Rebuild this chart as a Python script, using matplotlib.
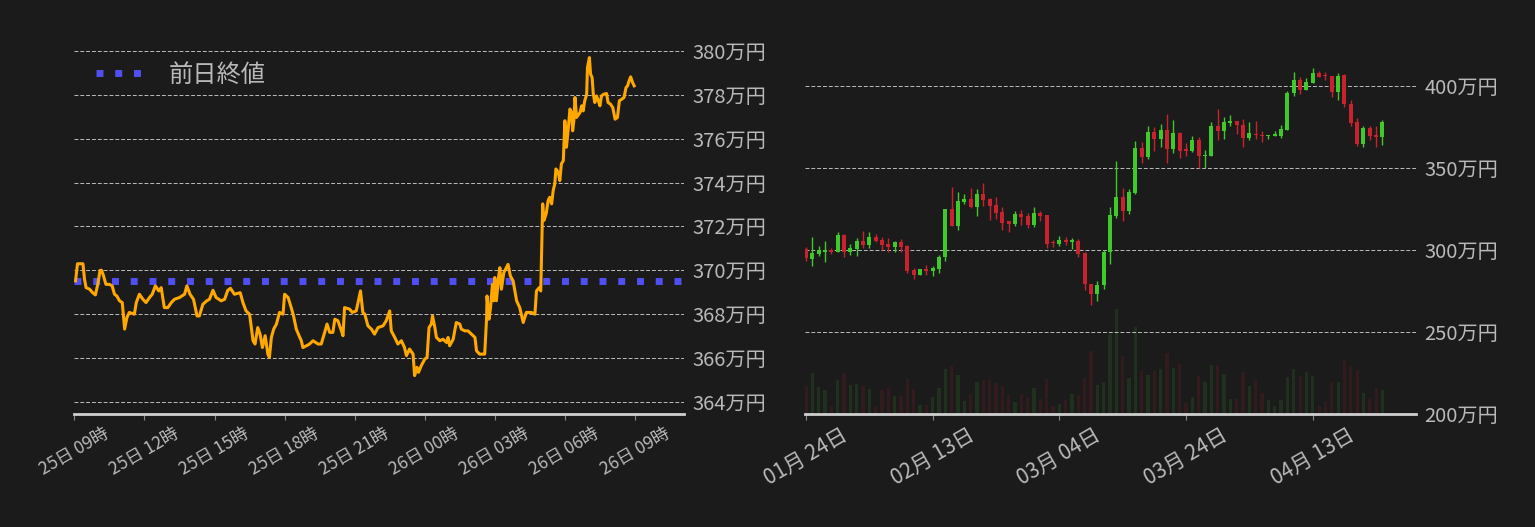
import matplotlib
matplotlib.use("Agg")
import matplotlib.pyplot as plt
import matplotlib.dates as mdates
import numpy as np
import pandas as pd

plt.rcParams['font.family'] = ['Noto Sans CJK JP', 'DejaVu Sans']

BG = '#1b1b1b'
TXT = '#b9b9b9'
GRID = '#bdbdbd'
ORANGE = '#ffa800'
BLUE = '#4f4ff5'
GREEN = '#3fc92b'
RED = '#c9222f'

# ---- intraday (minutes after 25日 09:00, price in 万円) ----
intraday_start = '2024-04-25 09:00'
intraday_min = [3, 8, 22, 26, 30, 39, 47, 54, 60, 66, 70, 75, 81, 90, 97, 103, 109, 116, 123, 129,
                135, 141, 154, 159, 167, 176, 184, 193, 200, 208, 217, 223, 231, 240, 249, 257, 270, 283, 289, 297,
                306, 315, 321, 330, 340, 347, 356, 364, 377, 386, 394, 401, 411, 426, 433, 441, 450, 459, 464, 471,
                477, 483, 490, 497, 501, 506, 512, 519, 527, 536, 540, 549, 557, 563, 570, 579, 583, 587, 596, 604,
                613, 626, 634, 643, 649, 656, 664, 669, 677, 686, 690, 694, 707, 714, 724, 735, 741, 746, 754, 763,
                771, 780, 793, 801, 810, 814, 823, 831, 840, 848, 853, 861, 870, 874, 880, 884, 891, 900, 906, 911,
                917, 920, 926, 930, 939, 947, 956, 960, 964, 973, 981, 990, 994, 1003, 1011, 1020, 1029, 1033, 1041, 1054,
                1059, 1060, 1065, 1069, 1074, 1077, 1080, 1084, 1090, 1093, 1097, 1103, 1114, 1120, 1127, 1136, 1144, 1153, 1161, 1174,
                1183, 1187, 1194, 1198, 1201, 1203, 1206, 1212, 1217, 1221, 1226, 1230, 1234, 1237, 1243, 1247, 1251, 1256, 1260, 1264,
                1269, 1273, 1277, 1280, 1283, 1286, 1290, 1299, 1303, 1307, 1311, 1316, 1318, 1323, 1326, 1330, 1333, 1337, 1341, 1346,
                1350, 1354, 1360, 1367, 1371, 1377, 1383, 1389, 1395, 1400, 1406, 1412, 1417, 1421, 1425, 1429, 1434, 1438]
intraday_price = [369.52, 370.30, 370.30, 369.59, 369.21, 369.14, 368.98, 368.88, 369.36, 370.00,
                  370.00, 369.74, 369.36, 369.36, 369.29, 368.91, 368.83, 368.61, 368.53, 367.32,
                  367.85, 368.08, 368.00, 368.53, 368.91, 368.68, 368.53, 368.76, 368.91, 369.29,
                  369.06, 369.21, 368.30, 368.30, 368.53, 368.68, 368.76, 368.91, 369.29, 368.91,
                  368.68, 367.92, 367.92, 368.45, 368.61, 368.68, 369.09, 368.76, 368.61, 368.68,
                  369.09, 369.18, 368.91, 368.98, 368.53, 368.15, 368.00, 366.79, 366.64, 367.39,
                  367.09, 366.48, 367.02, 366.18, 366.03, 366.94, 367.32, 367.55, 368.08, 368.00,
                  368.91, 368.76, 368.30, 367.92, 367.32, 366.94, 366.79, 366.48, 366.56, 366.64,
                  366.79, 366.64, 366.64, 367.17, 367.55, 367.17, 367.17, 367.77, 367.70, 367.24,
                  367.02, 368.30, 368.23, 368.08, 368.15, 369.06, 368.08, 368.00, 367.47, 367.32,
                  367.09, 367.39, 367.47, 367.70, 368.15, 367.24, 366.94, 366.64, 366.79, 366.48,
                  366.11, 366.41, 366.18, 365.20, 365.58, 365.35, 365.65, 365.95, 366.03, 367.39,
                  367.55, 367.92, 367.39, 366.94, 366.79, 366.86, 366.71, 366.94, 366.56, 366.86,
                  367.62, 367.55, 367.32, 367.24, 367.24, 367.09, 366.94, 366.33, 366.18, 366.18,
                  367.85, 368.83, 367.77, 368.30, 369.36, 368.61, 369.67, 368.61, 369.74, 370.12,
                  369.14, 369.89, 370.27, 369.74, 369.52, 368.61, 368.30, 367.62, 368.08, 368.08,
                  368.00, 369.06, 369.21, 369.06, 371.40, 373.03, 372.27, 372.58, 373.18, 373.33,
                  373.03, 373.64, 373.94, 374.62, 374.47, 374.09, 374.85, 375.00, 376.82, 375.61,
                  376.52, 377.35, 377.20, 376.36, 376.82, 377.88, 376.97, 377.20, 377.50, 377.27,
                  377.73, 378.03, 379.24, 379.70, 378.94, 378.79, 378.03, 377.65, 377.95, 377.73,
                  377.50, 377.95, 378.03, 378.06, 377.65, 377.58, 377.42, 376.89, 376.97, 377.73,
                  377.80, 377.88, 378.33, 378.41, 378.64, 378.82, 378.56, 378.41]
prev_close = 369.5
left_yticks = [364, 366, 368, 370, 372, 374, 376, 378, 380]

# ---- daily candles (万円) ----
daily_start = '2024-01-24'
d_open = [300.5, 294.5, 297.6, 299.0, 300.0, 299.0, 309.1, 299.0, 300.6, 305.5,
          303.0, 307.7, 306.0, 303.6, 301.8, 304.8, 302.2, 287.9, 284.4, 288.5,
          286.9, 288.5, 295.4, 324.8, 314.7, 329.3, 330.9, 326.3, 333.9, 330.9,
          327.3, 323.0, 317.4, 316.0, 321.6, 320.4, 315.4, 322.4, 321.2, 305.0,
          303.8, 306.1, 305.0, 305.7, 298.2, 279.4, 272.9, 278.4, 298.8, 320.7,
          332.0, 323.7, 334.6, 362.1, 356.7, 371.8, 367.4, 373.0, 361.3, 371.2,
          361.1, 360.5, 367.0, 357.0, 357.5, 375.2, 372.7, 377.6, 378.8, 376.4,
          367.9, 370.9, 370.3, 369.1, 369.7, 369.7, 373.3, 395.4, 403.6, 397.6,
          401.8, 407.7, 406.1, 406.1, 396.4, 406.7, 389.1, 378.2, 364.8, 374.5,
          370.3, 368.5]
d_high = [301.6, 307.7, 302.2, 305.3, 301.2, 310.9, 309.7, 303.6, 307.3, 311.5,
          310.9, 309.7, 307.7, 307.3, 305.7, 306.7, 303.0, 289.0, 288.5, 290.9,
          289.9, 296.6, 324.8, 338.2, 335.0, 333.9, 337.6, 337.0, 340.6, 331.9,
          332.1, 325.9, 317.8, 323.4, 324.4, 322.2, 326.1, 324.0, 321.2, 305.9,
          308.5, 307.7, 307.3, 306.5, 298.6, 279.4, 281.2, 300.0, 326.1, 354.4,
          337.5, 336.9, 366.6, 366.0, 375.7, 374.8, 376.9, 382.9, 379.3, 371.8,
          365.4, 369.6, 368.8, 361.1, 377.9, 386.1, 380.8, 382.4, 378.8, 380.0,
          378.2, 378.8, 372.7, 370.3, 372.7, 376.4, 397.0, 408.5, 405.5, 404.8,
          410.9, 409.1, 408.3, 406.1, 407.9, 407.3, 391.5, 380.6, 375.2, 375.2,
          375.2, 379.4]
d_low = [293.4, 289.9, 296.0, 292.9, 297.8, 299.0, 295.4, 297.0, 296.0, 301.4,
         301.4, 305.0, 300.0, 299.0, 299.0, 299.0, 286.0, 282.4, 284.4, 284.8,
         283.8, 286.0, 293.3, 314.7, 312.3, 327.9, 325.5, 320.8, 326.9, 318.4,
         318.8, 312.3, 311.1, 314.7, 315.4, 313.3, 314.1, 317.8, 301.4, 302.0,
         302.6, 302.8, 300.6, 295.4, 275.4, 266.7, 268.7, 276.4, 291.5, 319.5,
         317.7, 321.7, 334.0, 352.8, 355.3, 360.1, 362.5, 352.8, 358.9, 355.9,
         357.0, 359.9, 350.2, 350.2, 357.0, 366.7, 367.3, 375.2, 370.9, 363.0,
         366.7, 367.3, 365.5, 367.5, 369.1, 367.9, 373.3, 393.9, 394.7, 397.6,
         401.8, 405.1, 403.6, 393.3, 391.5, 386.9, 375.2, 363.6, 363.0, 366.7,
         363.0, 364.2]
d_close = [295.0, 298.2, 300.0, 300.2, 299.0, 309.1, 299.0, 301.2, 305.5, 303.0,
           307.7, 305.5, 303.0, 301.8, 304.6, 301.8, 286.9, 284.4, 288.5, 286.9,
           289.1, 295.8, 324.8, 314.7, 329.7, 330.9, 326.3, 333.9, 330.3, 326.9,
           322.6, 316.6, 316.0, 321.6, 320.2, 315.4, 322.2, 320.8, 303.8, 304.0,
           306.1, 304.8, 305.7, 297.2, 279.0, 272.9, 278.8, 298.8, 321.2, 332.0,
           323.7, 335.0, 362.1, 356.7, 371.8, 367.4, 373.0, 361.3, 371.2, 360.5,
           360.5, 367.0, 357.0, 358.0, 375.7, 372.7, 378.2, 378.8, 375.8, 367.9,
           371.5, 369.9, 369.3, 370.3, 370.3, 373.9, 395.8, 403.6, 397.6, 402.4,
           407.7, 405.5, 405.7, 396.4, 406.1, 388.7, 377.6, 364.8, 374.5, 369.7,
           368.5, 378.2]
d_volume = [83, 123, 80, 72, 24, 102, 123, 87, 90, 83,
            75, 24, 72, 78, 53, 53, 105, 75, 27, 27,
            51, 78, 135, 144, 117, 39, 60, 96, 102, 102,
            93, 83, 57, 36, 60, 51, 78, 45, 105, 24,
            30, 42, 60, 57, 108, 190, 87, 96, 240, 315,
            174, 108, 261, 129, 117, 129, 135, 183, 138, 150,
            33, 51, 114, 96, 147, 147, 120, 45, 45, 126,
            84, 102, 63, 42, 24, 42, 111, 135, 114, 126,
            114, 24, 39, 96, 96, 162, 144, 132, 63, 48,
            78, 72]
right_yticks = [200, 250, 300, 350, 400]


def style_axes(ax):
    ax.set_facecolor(BG)
    for s in ['top', 'left', 'right']:
        ax.spines[s].set_visible(False)
    ax.spines['bottom'].set_color('#cfcfcf')
    ax.spines['bottom'].set_linewidth(2)
    ax.yaxis.tick_right()
    ax.tick_params(axis='y', length=0, pad=6, labelsize=14.5, labelcolor=TXT)
    ax.tick_params(axis='x', length=4, width=0.8, color='#8a8a8a', labelcolor=TXT)
    ax.grid(axis='y', color=GRID, linestyle=(0, (4, 2)), linewidth=0.7)
    ax.set_axisbelow(True)


fig = plt.figure(figsize=(15.35, 5.27), dpi=100)
fig.patch.set_facecolor(BG)

# ---------------- left: intraday ----------------
ax1 = fig.add_axes([74 / 1535, 113 / 527, 610 / 1535, 374 / 527])
style_axes(ax1)
t0 = pd.Timestamp(intraday_start)
times = t0 + pd.to_timedelta(intraday_min, unit='m')
ax1.plot(times, intraday_price, color=ORANGE, lw=2.2, zorder=3)
ax1.axhline(prev_close, color=BLUE, lw=5, linestyle=(0, (1, 1.7)),
            dash_capstyle='butt', label='前日終値', zorder=2)
ax1.set_xlim(t0 - pd.Timedelta(minutes=1), t0 + pd.Timedelta(minutes=1566))
ax1.set_ylim(363.45, 380.5)
ax1.set_yticks(left_yticks)
ax1.set_yticklabels([f'{v}万円' for v in left_yticks])
ax1.xaxis.set_major_locator(mdates.HourLocator(byhour=range(0, 24, 3)))
ax1.xaxis.set_major_formatter(mdates.DateFormatter('%d日 %H時'))
ax1.tick_params(axis='x', labelsize=12.5)
plt.setp(ax1.get_xticklabels(), rotation=30)
ax1.legend(loc='upper left', frameon=False, fontsize=17.5, labelcolor=TXT,
           handlelength=1.9, handletextpad=1.1)

# ---------------- right: daily candles ----------------
ax2 = fig.add_axes([805 / 1535, 113 / 527, 611 / 1535, 374 / 527])
dates = pd.date_range(daily_start, periods=len(d_open), freq='D')
x = mdates.date2num(dates)
o = np.array(d_open)
c = np.array(d_close)
colors = np.where(c >= o, GREEN, RED)

# volume on a twin axis, drawn behind the candles
axv = ax2.twinx()
axv.bar(x, d_volume, width=0.5, color=colors, alpha=0.13, zorder=1)
axv.set_ylim(0, max(d_volume) * 3.56)
axv.set_yticks([])
for s in axv.spines.values():
    s.set_visible(False)
axv.patch.set_facecolor(BG)
ax2.set_zorder(axv.get_zorder() + 1)
style_axes(ax2)
ax2.patch.set_visible(False)

ax2.vlines(x, d_low, d_high, colors=colors, lw=1.0, zorder=3)
ax2.bar(x, np.maximum(np.abs(c - o), 0.8), bottom=np.minimum(o, c), width=0.62,
        color=colors, zorder=4)
ax2.set_xlim(x[0] - 0.16, x[0] + 96.3)
ax2.set_ylim(200, 427.9)
ax2.set_yticks(right_yticks)
ax2.set_yticklabels([f'{v}万円' for v in right_yticks])
ax2.set_xticks(x[::20])
ax2.xaxis.set_major_formatter(mdates.DateFormatter('%m月 %d日'))
ax2.tick_params(axis='x', labelsize=15)
plt.setp(ax2.get_xticklabels(), rotation=30)

fig.savefig('out.png', dpi=100, facecolor=BG)
